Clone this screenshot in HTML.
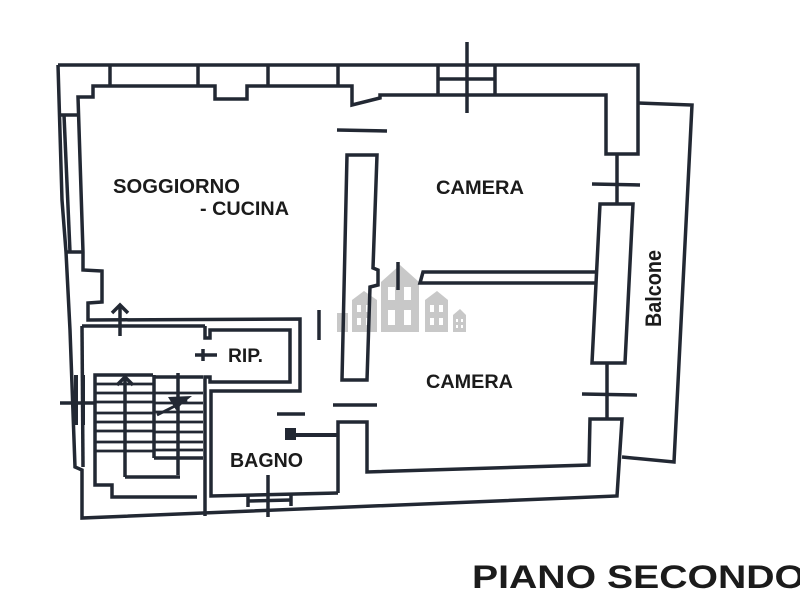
<!DOCTYPE html>
<html><head><meta charset="utf-8"><style>
html,body{margin:0;padding:0;background:#fff;}
svg{display:block}
text{font-family:"Liberation Sans",Arial,sans-serif;font-weight:bold;fill:#1b1b1b;}
</style></head><body>
<svg width="800" height="600" viewBox="0 0 800 600" xmlns="http://www.w3.org/2000/svg">
<rect width="800" height="600" fill="#fff"/>
<!-- watermark -->
<g fill="#c8c8c8">
 <polygon points="381,282 400,265 419,282 419,332 381,332"/>
 <polygon points="352,300 364,291 377,300 377,332 352,332"/>
 <polygon points="425,300 437,291 448,300 448,332 425,332"/>
 <polygon points="453,315 460,309 466,315 466,332 453,332"/>
 <rect x="337" y="313" width="11" height="19"/>
</g>
<g fill="#fff">
 <rect x="388" y="287" width="7" height="13"/><rect x="404" y="287" width="7" height="13"/>
 <rect x="388" y="310" width="7" height="15"/><rect x="404" y="310" width="7" height="15"/>
 <rect x="357" y="305" width="4" height="7"/><rect x="366" y="305" width="4" height="7"/>
 <rect x="357" y="318" width="4" height="7"/><rect x="366" y="318" width="4" height="7"/>
 <rect x="430" y="305" width="4" height="7"/><rect x="439" y="305" width="4" height="7"/>
 <rect x="430" y="318" width="4" height="7"/><rect x="439" y="318" width="4" height="7"/>
 <rect x="456" y="319" width="2" height="3"/><rect x="461" y="319" width="2" height="3"/>
 <rect x="456" y="325" width="2" height="3"/><rect x="461" y="325" width="2" height="3"/>
</g>

<g stroke="#222833" stroke-width="3.5" fill="none" stroke-linejoin="miter">
 <polyline points="58,65 638,65 638,154 606,154 606,95 380,95 380,98 352,105 352,86 338,86 247,86 247,99 215,99 215,86 93,86 93,97 78,97 83,252 83,270 102,271 102,302 88,303 88,320 300,319 300,391 211,391 211,496 338,493"/>
 <line x1="110" y1="65" x2="110" y2="86"/>
 <line x1="198" y1="65" x2="198" y2="86"/>
 <line x1="268" y1="65" x2="268" y2="86"/>
 <line x1="338" y1="65" x2="338" y2="86"/>
 <line x1="438" y1="65" x2="438" y2="95"/>
 <line x1="495" y1="65" x2="495" y2="95"/>
 <line x1="438" y1="79" x2="495" y2="79"/>
 <line x1="467" y1="42" x2="467" y2="113"/>
 <line x1="337" y1="130" x2="387" y2="131"/>
 <line x1="333" y1="405" x2="377" y2="405"/>
 <line x1="277" y1="414" x2="305" y2="414"/>
 <line x1="319" y1="310" x2="319" y2="340"/>
 <line x1="617" y1="154" x2="617" y2="204"/>
 <line x1="592" y1="184" x2="640" y2="185"/>
 <polygon points="592,363 600,204 633,204 625,363"/>
 <line x1="607" y1="363" x2="607" y2="420"/>
 <line x1="582" y1="394" x2="637" y2="395"/>
 <polyline points="338,493 338,422 367,422 367,472 589,465 590,419 622,419 617,496 82,518 82,470 75,467 70,330 66,252 62,200 58,65"/>
 <polyline points="638,103 692,105 674,462 622,457"/>
 <polygon points="347,155 377,155 373,268 378,270 378,285 370,287 367,380 342,380"/>
 <polyline points="598,272 423,272 420,283 597,283"/>
 <line x1="398" y1="262" x2="398" y2="290"/>
 <line x1="290" y1="435" x2="338" y2="435" stroke-width="4"/>
 <line x1="59" y1="115" x2="78" y2="115"/>
 <line x1="64" y1="115" x2="70" y2="252"/>
 <line x1="66" y1="252" x2="83" y2="252"/>
 <line x1="82" y1="326" x2="205" y2="326"/>
 <line x1="82" y1="326" x2="83" y2="467"/>
 <polyline points="205,326 205,338 210,338 210,330 290,330 290,382 210,382 210,377 205,377 205,516"/>
 <line x1="195" y1="355" x2="217" y2="355"/>
 <line x1="203" y1="349" x2="203" y2="361"/>
 <line x1="120" y1="305" x2="120" y2="336"/>
 <polyline points="112,313 120,305 128,313"/>
 <line x1="76" y1="375" x2="76" y2="425" stroke-width="4"/>
 <line x1="83" y1="375" x2="83" y2="425" stroke-width="4"/>
 <line x1="60" y1="403" x2="95" y2="403"/>
 <polyline points="95,467 95,375 153,375"/>
 <line x1="153" y1="377" x2="203" y2="377"/>
 <line x1="154" y1="375" x2="154" y2="458"/>
 <line x1="125" y1="375" x2="125" y2="477"/>
 <line x1="178" y1="373" x2="178" y2="475"/>
 <line x1="125" y1="477" x2="180" y2="477"/>
 <line x1="154" y1="458" x2="203" y2="458"/>
 <g stroke-width="2.8">
  <line x1="95" y1="384" x2="153" y2="384"/>
  <line x1="95" y1="393" x2="153" y2="393"/>
  <line x1="95" y1="402" x2="153" y2="402"/>
  <line x1="95" y1="413" x2="153" y2="413"/>
  <line x1="95" y1="422" x2="153" y2="422"/>
  <line x1="95" y1="431" x2="153" y2="431"/>
  <line x1="95" y1="442" x2="153" y2="442"/>
  <line x1="95" y1="451" x2="153" y2="451"/>
  <line x1="154" y1="393" x2="203" y2="393"/>
  <line x1="154" y1="403" x2="203" y2="403"/>
  <line x1="154" y1="412" x2="203" y2="412"/>
  <line x1="154" y1="422" x2="203" y2="422"/>
  <line x1="154" y1="432" x2="203" y2="432"/>
  <line x1="154" y1="442" x2="203" y2="442"/>
  <line x1="154" y1="450" x2="203" y2="450"/>
  <line x1="157" y1="415" x2="187" y2="400"/>
 </g>
 <polyline points="117,385 125,377 133,385"/>
 <polyline points="95,467 95,485 112,485 112,497 197,497"/>
 <line x1="268" y1="475" x2="268" y2="517"/>
 <line x1="248" y1="495" x2="248" y2="507"/>
 <line x1="291" y1="494" x2="291" y2="506"/>
 <line x1="248" y1="501" x2="291" y2="500"/>
</g>
<g fill="#222833">
 <rect x="285" y="428" width="11" height="12"/>
 <polygon points="168,397 192,396 182,404 176,410"/>
</g>

<text x="113" y="193" font-size="20" textLength="127" lengthAdjust="spacingAndGlyphs">SOGGIORNO</text>
<text x="200" y="215" font-size="19" textLength="89" lengthAdjust="spacingAndGlyphs">- CUCINA</text>
<text x="436" y="194" font-size="19.5" textLength="88" lengthAdjust="spacingAndGlyphs">CAMERA</text>
<text x="426" y="388" font-size="19.5" textLength="87" lengthAdjust="spacingAndGlyphs">CAMERA</text>
<text x="228" y="362" font-size="19" textLength="35" lengthAdjust="spacingAndGlyphs">RIP.</text>
<text x="230" y="467" font-size="20" textLength="73" lengthAdjust="spacingAndGlyphs">BAGNO</text>
<text transform="translate(661,327) rotate(-90)" x="0" y="0" font-size="22" textLength="77" lengthAdjust="spacingAndGlyphs">Balcone</text>
<text x="472" y="588" font-size="32" textLength="333" lengthAdjust="spacingAndGlyphs">PIANO SECONDO</text>
</svg>
</body></html>
